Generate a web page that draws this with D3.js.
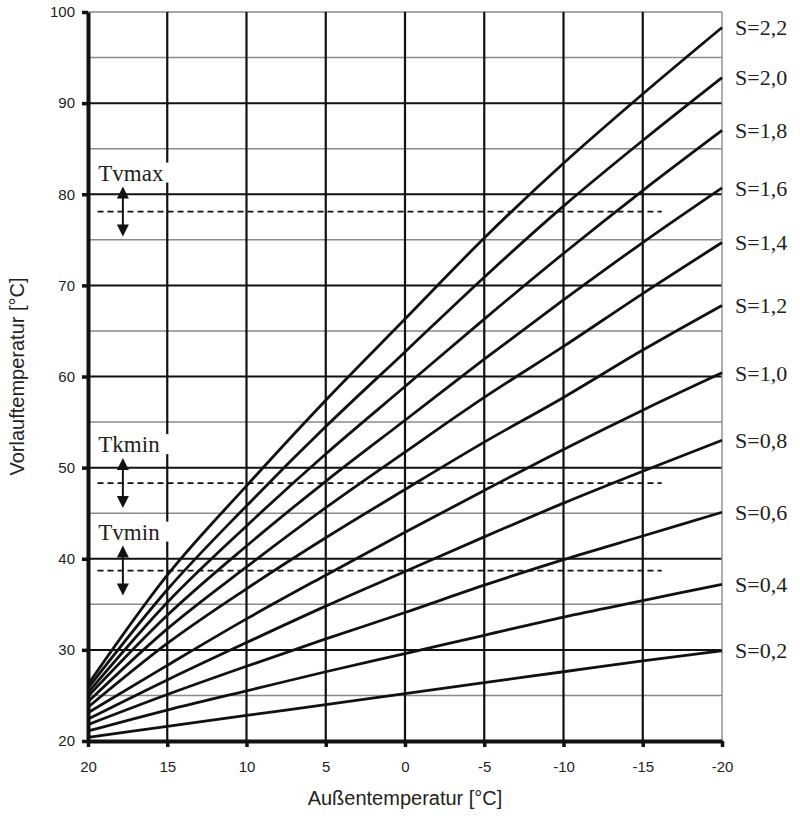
<!DOCTYPE html>
<html>
<head>
<meta charset="utf-8">
<script src="https://cdn.jsdelivr.net/npm/d3@7"></script>
<style>
  body { margin: 0; background: #fff; }
  svg { display: block; }
</style>
</head>
<body>
<div id="chart"></div>
<script>
// outside temperature points (°C), read at each grid line
var outside = [20, 15, 10, 5, 0, -5, -10, -15, -20];
var yTicks = [20, 30, 40, 50, 60, 70, 80, 90, 100];

// heating curve slopes and flow temperatures
var slopes = ['2,2', '2,0', '1,8', '1,6', '1,4', '1,2', '1,0', '0,8', '0,6', '0,4', '0,2'];
var tv22 = [26.2, 38.2, 48.0, 57.4, 66.3, 75.2, 83.4, 91.0, 98.3];
var tv20 = [25.8, 36.6, 45.8, 54.5, 62.7, 70.9, 78.7, 85.9, 92.8];
var tv18 = [25.3, 35.2, 43.6, 51.5, 58.9, 66.3, 73.5, 80.4, 87.0];
var tv16 = [24.9, 33.8, 41.4, 48.5, 55.2, 61.9, 68.4, 74.7, 80.7];
var tv14 = [24.3, 32.3, 39.1, 45.6, 51.7, 57.7, 63.3, 69.1, 74.7];
var tv12 = [23.7, 30.7, 36.7, 42.3, 47.6, 52.8, 57.7, 62.9, 67.8];
var tv10 = [23.1, 28.3, 33.4, 38.2, 42.9, 47.5, 52.0, 56.3, 60.4];
var tv08 = [22.4, 26.7, 30.8, 34.8, 38.6, 42.4, 46.1, 49.6, 53.0];
var tv06 = [21.8, 25.1, 28.2, 31.2, 34.1, 37.1, 39.9, 42.5, 45.1];
var tv04 = [21.1, 23.4, 25.5, 27.6, 29.6, 31.6, 33.6, 35.4, 37.2];
var tv02 = [20.4, 21.6, 22.8, 24.0, 25.2, 26.4, 27.6, 28.8, 29.9];

// limit lines
var limitNames = ['Tvmax', 'Tkmin', 'Tvmin'];
var limitValues = [78.1, 48.3, 38.7];
var limitFrom = 19.4, limitTo = -16.2;

var series = [tv22, tv20, tv18, tv16, tv14, tv12, tv10, tv08, tv06, tv04, tv02].map(function(vals, i) {
  return { label: 'S=' + slopes[i], values: vals.map(function(v, j) { return { t: outside[j], v: v }; }) };
});

var width = 800, height = 816;
var margin = { top: 12, right: 78, bottom: 75, left: 88 };
var sans = '"Liberation Sans", Arial, sans-serif';
var serif = '"Liberation Serif", "Times New Roman", serif';

var svg = d3.select('#chart').append('svg')
  .attr('width', width)
  .attr('height', height);

var x = d3.scaleLinear().domain([20, -20]).range([margin.left, width - margin.right]);
var y = d3.scaleLinear().domain([20, 100]).range([height - margin.bottom, margin.top]);

// grid lines
var grid = svg.append('g');
grid.selectAll('.hmin')
  .data(d3.range(25, 101, 5).filter(function(d) { return d % 10 !== 0 || d === 100; }))
  .enter().append('line')
  .attr('x1', x(20)).attr('x2', x(-20))
  .attr('y1', function(d) { return y(d); }).attr('y2', function(d) { return y(d); })
  .attr('stroke', '#8a8a8a').attr('stroke-width', 1.4);
grid.selectAll('.hmaj')
  .data([30, 40, 50, 60, 70, 80, 90])
  .enter().append('line')
  .attr('x1', x(20)).attr('x2', x(-20))
  .attr('y1', function(d) { return y(d); }).attr('y2', function(d) { return y(d); })
  .attr('stroke', '#111').attr('stroke-width', 2);
grid.selectAll('.vmaj')
  .data(outside.filter(function(d) { return d !== 20 && d !== -20; }))
  .enter().append('line')
  .attr('x1', function(d) { return x(d); }).attr('x2', function(d) { return x(d); })
  .attr('y1', y(100)).attr('y2', y(20))
  .attr('stroke', '#111').attr('stroke-width', 2.2);
grid.append('line')
  .attr('x1', x(-20)).attr('x2', x(-20))
  .attr('y1', y(100)).attr('y2', y(20))
  .attr('stroke', '#8a8a8a').attr('stroke-width', 1.4);

// limit labels with white background, dashed lines and double arrows
limitNames.forEach(function(name, i) {
  var ly = y(limitValues[i]);
  var base = ly - 31;
  svg.append('rect')
    .attr('x', x(19.6)).attr('y', base - 18)
    .attr('width', x(14.6) - x(19.6)).attr('height', 20)
    .attr('fill', '#fff');
  svg.append('text')
    .attr('x', x(19.35)).attr('y', base)
    .style('font-family', serif).style('font-size', '23px').style('fill', '#222')
    .text(name);

  svg.append('line')
    .attr('x1', x(limitFrom)).attr('x2', x(limitTo))
    .attr('y1', ly).attr('y2', ly)
    .attr('stroke', '#111').attr('stroke-width', 1.8)
    .attr('stroke-dasharray', '6,4');

  var ax = x(17.8);
  svg.append('line')
    .attr('x1', ax).attr('x2', ax)
    .attr('y1', ly - 16).attr('y2', ly + 16)
    .attr('stroke', '#111').attr('stroke-width', 2);
  svg.append('path')
    .attr('d', 'M' + (ax - 6) + ',' + (ly - 13) + 'L' + ax + ',' + (ly - 25) + 'L' + (ax + 6) + ',' + (ly - 13) + 'Z')
    .attr('fill', '#111');
  svg.append('path')
    .attr('d', 'M' + (ax - 6) + ',' + (ly + 13) + 'L' + ax + ',' + (ly + 25) + 'L' + (ax + 6) + ',' + (ly + 13) + 'Z')
    .attr('fill', '#111');
});

// curves
var line = d3.line()
  .x(function(d) { return x(d.t); })
  .y(function(d) { return y(d.v); })
  .curve(d3.curveMonotoneX);

svg.selectAll('.curve')
  .data(series)
  .enter().append('path')
  .attr('class', 'curve')
  .attr('d', function(d) { return line(d.values); })
  .attr('fill', 'none')
  .attr('stroke', '#111')
  .attr('stroke-width', 2.8);

svg.selectAll('.clabel')
  .data(series)
  .enter().append('text')
  .attr('x', x(-20) + 13)
  .attr('y', function(d) { return y(d.values[d.values.length - 1].v); })
  .attr('dy', '0.35em')
  .style('font-family', serif).style('font-size', '22px').style('fill', '#222')
  .text(function(d) { return d.label; });

// axes
var yAxis = d3.axisLeft(y).tickValues(yTicks).tickSize(6).tickSizeOuter(0).tickPadding(7)
  .tickFormat(function(d) { return String(d); });
var gy = svg.append('g')
  .attr('transform', 'translate(' + x(20) + ',0)')
  .call(yAxis);
gy.select('.domain').attr('stroke', '#111').attr('stroke-width', 4);
gy.selectAll('.tick line').attr('stroke', '#111').attr('stroke-width', 3.5);
gy.selectAll('.tick text')
  .style('font-family', sans).style('font-size', '15px').style('fill', '#222');

var xAxis = d3.axisBottom(x).tickValues(outside).tickSize(6).tickSizeOuter(0).tickPadding(14)
  .tickFormat(function(d) { return String(d); });
var gx = svg.append('g')
  .attr('transform', 'translate(0,' + y(20) + ')')
  .call(xAxis);
gx.select('.domain').attr('stroke', '#111').attr('stroke-width', 4);
gx.selectAll('.tick line').attr('stroke', '#111').attr('stroke-width', 3.5);
gx.selectAll('.tick text')
  .style('font-family', sans).style('font-size', '15px').style('fill', '#222');

// axis titles
svg.append('text')
  .attr('x', (x(20) + x(-20)) / 2)
  .attr('y', 805)
  .attr('text-anchor', 'middle')
  .style('font-family', sans)
  .style('font-size', '20px').style('fill', '#222')
  .text('Außentemperatur [°C]');

svg.append('text')
  .attr('transform', 'translate(24,' + ((y(20) + y(100)) / 2) + ') rotate(-90)')
  .attr('text-anchor', 'middle')
  .style('font-family', sans)
  .style('font-size', '20px').style('fill', '#222')
  .text('Vorlauftemperatur [°C]');
</script>
</body>
</html>
